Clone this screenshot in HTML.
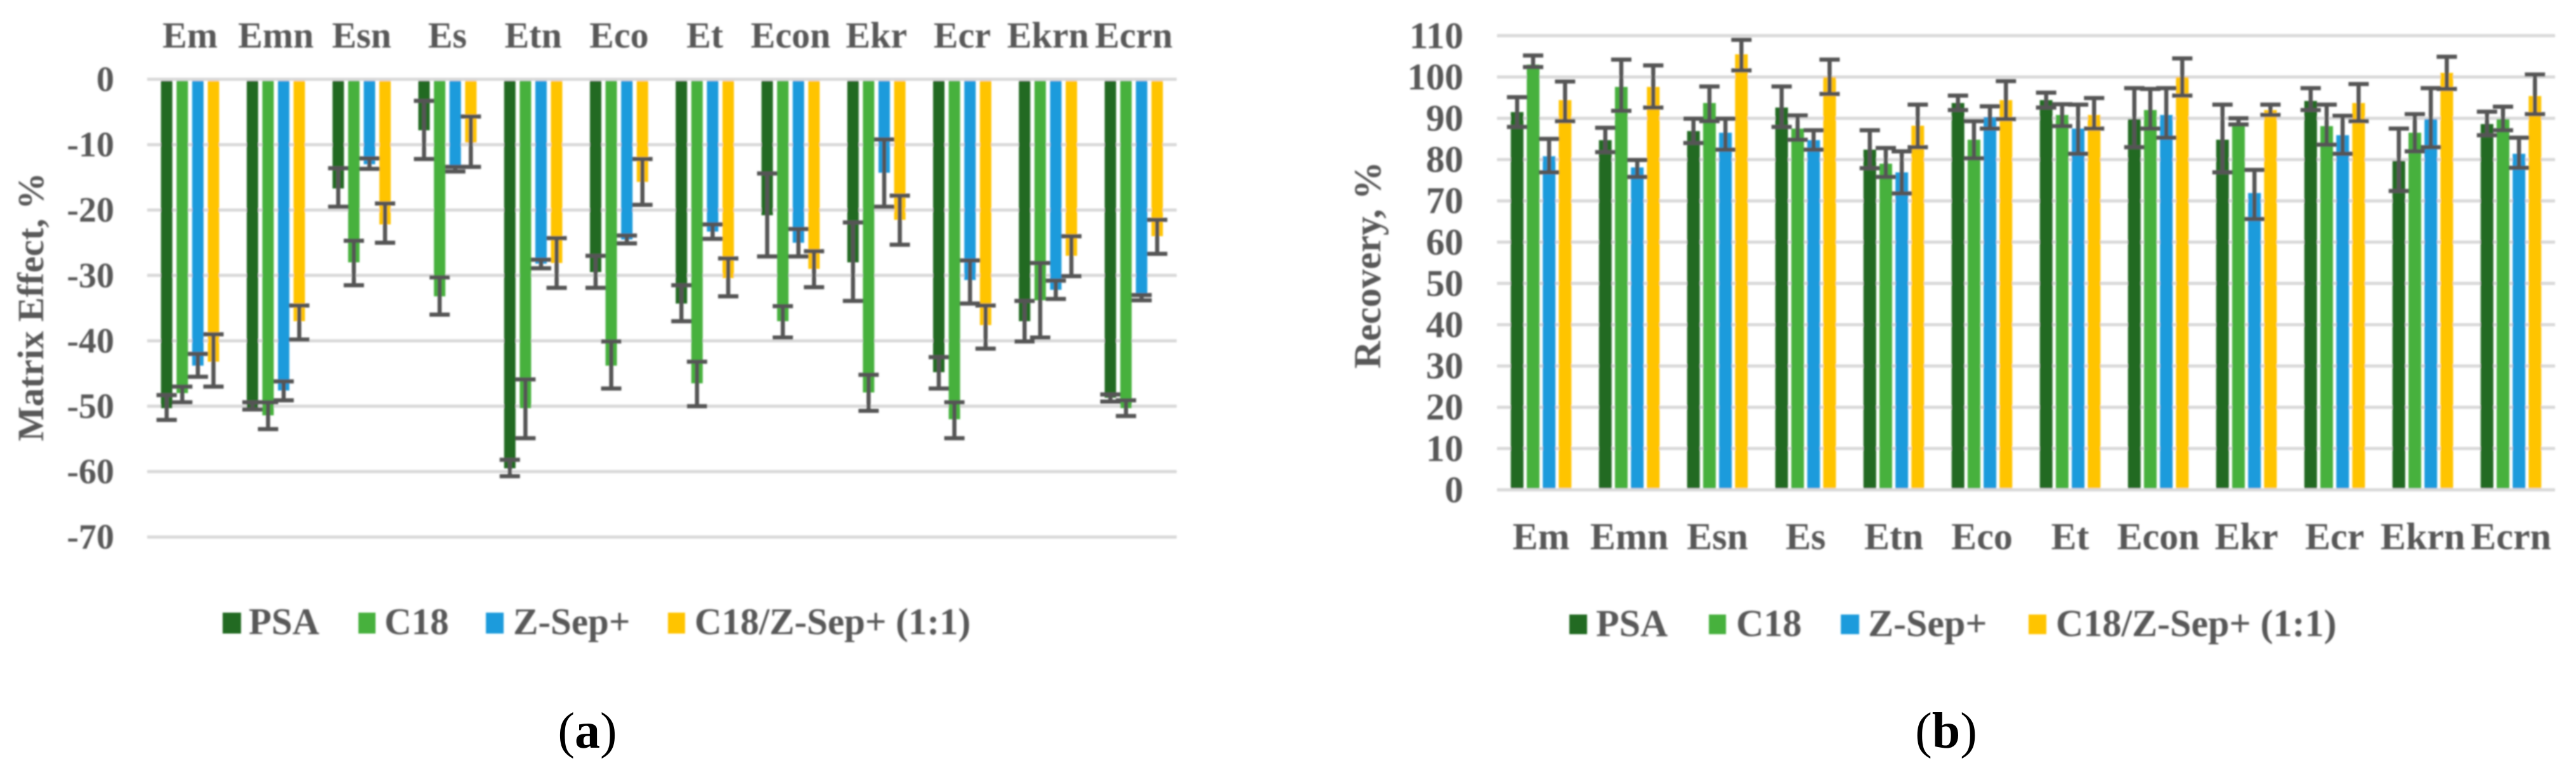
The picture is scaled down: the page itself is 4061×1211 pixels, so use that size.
<!DOCTYPE html>
<html lang="en">
<head>
<meta charset="utf-8">
<title>Matrix Effect and Recovery charts</title>
<style>
html,body{margin:0;padding:0;background:#fff;width:4061px;height:1211px;overflow:hidden}
svg{display:block}
text{font-family:"Liberation Serif",serif;font-weight:700;fill:#595959}
.caption{fill:#000;font-weight:400}
</style>
</head>
<body>
<svg id="figure" xmlns="http://www.w3.org/2000/svg" width="4061" height="1211" viewBox="0 0 4061 1211">
  <defs><filter id="soft" x="-2%" y="-2%" width="104%" height="104%"><feGaussianBlur stdDeviation="1.4"/></filter></defs>
  <rect width="4061" height="1211" fill="#fff"/>
  <g id="chartA" filter="url(#soft)">
    <text transform="translate(68,484) rotate(-90)" text-anchor="middle" font-size="58">Matrix Effect, %</text>
    <g>
      <rect x="351" y="966" width="29" height="33" fill="#226b21"/>
      <text x="392" y="1000" font-size="59">PSA</text>
      <rect x="565" y="966" width="27" height="33" fill="#46b13c"/>
      <text x="606" y="1000" font-size="59">C18</text>
      <rect x="766" y="966" width="28" height="33" fill="#1a9bdc"/>
      <text x="809" y="1000" font-size="59">Z-Sep+</text>
      <rect x="1053" y="966" width="27" height="33" fill="#ffc400"/>
      <text x="1095" y="1000" font-size="59">C18/Z-Sep+ (1:1)</text>
    </g>
  </g>
  <g id="chartB" filter="url(#soft)">
    <text transform="translate(2176,418) rotate(-90)" text-anchor="middle" font-size="60">Recovery, %</text>
    <g>
      <rect x="2474" y="969" width="28" height="31" fill="#226b21"/>
      <text x="2516" y="1003" font-size="60">PSA</text>
      <rect x="2694" y="969" width="27" height="31" fill="#46b13c"/>
      <text x="2737" y="1003" font-size="60">C18</text>
      <rect x="2902" y="969" width="29" height="31" fill="#1a9bdc"/>
      <text x="2945" y="1003" font-size="60">Z-Sep+</text>
      <rect x="3198" y="969" width="28" height="31" fill="#ffc400"/>
      <text x="3241" y="1003" font-size="60">C18/Z-Sep+ (1:1)</text>
    </g>
  </g>
  <text class="caption" x="926" y="1179" text-anchor="middle" font-size="80">(<tspan style="font-weight:700;fill:#000">a</tspan>)</text>
  <text class="caption" x="3068" y="1179" text-anchor="middle" font-size="80">(<tspan style="font-weight:700;fill:#000">b</tspan>)</text>
</svg>
<script>
var categories = ["Em","Emn","Esn","Es","Etn","Eco","Et","Econ","Ekr","Ecr","Ekrn","Ecrn"];
var seriesNames = ["psa","c18","z-sep","c18-z-sep"];
var seriesColors = ["#226b21","#46b13c","#1a9bdc","#ffc400"];

var matrixTicks = [0,-10,-20,-30,-40,-50,-60,-70];
var matrixPSA = [-50.3,-50.3,-16.7,-7.8,-59.5,-29.5,-34.3,-20.8,-28,-44.8,-37,-48.7];
var matrixC18 = [-48,-51.4,-28,-33.2,-50.3,-43.8,-46.5,-37,-47.9,-52,-33.8,-50.3];
var matrixZSep = [-43.8,-47.6,-13,-13.6,-28.2,-24.5,-23.3,-25,-14.3,-30.7,-32.2,-33.2];
var matrixMix = [-43.2,-37,-22.2,-9.7,-28.1,-15.7,-30.4,-29,-21.5,-37.6,-27,-24];
var matrixPSAErrTop = [-48.3,-49.4,-13.6,-3.3,-58.2,-27,-31.5,-14.4,-21.9,-42.5,-33.9,-48.2];
var matrixPSAErrEnd = [-52.1,-50.5,-19.5,-12.2,-60.7,-31.9,-37,-27.1,-33.9,-47.3,-40.1,-49.3];
var matrixC18ErrTop = [-47,-49.4,-24.7,-30.3,-45.9,-40.1,-43.2,-34.7,-45.2,-49.4,-28.1,-49.1];
var matrixC18ErrEnd = [-49.4,-53.5,-31.5,-36,-54.9,-47.3,-50,-39.5,-50.7,-54.9,-39.5,-51.5];
var matrixZSepErrTop = [-42,-46.2,-12.1,-13.4,-27.6,-23.9,-22.2,-22.9,-9.2,-27.7,-30.8,-33];
var matrixZSepErrEnd = [-45.5,-49.1,-13.7,-14.1,-28.9,-25.1,-24.4,-27.1,-19.5,-34.3,-33.6,-33.8];
var matrixMixErrTop = [-39,-34.6,-19,-5.7,-24.3,-12.2,-27.4,-26.3,-17.8,-34.6,-24,-21.5];
var matrixMixErrEnd = [-47,-39.8,-25,-13.4,-31.9,-19.2,-33.2,-31.8,-25.3,-41.2,-30.1,-26.7];

var recoveryTicks = [0,10,20,30,40,50,60,70,80,90,100,110];
var recoveryPSA = [91.5,84.7,86.9,92.6,82.4,93.7,94.4,89.8,84.8,94.2,79.7,88.6];
var recoveryC18 = [103,97.6,93.7,87.5,79,84.8,90.8,92,89,88.1,86.5,89.8];
var recoveryZSep = [80.8,78.1,86.5,84.7,76.9,90.3,87.5,90.8,71.9,85.9,89.8,81.4];
var recoveryMix = [94.4,97.6,105.5,100,88.2,94.4,90.8,100,92,93.7,101,95.4];
var recoveryPSAErrTop = [95.1,87.7,89.9,97.7,87.1,95.5,96.2,97.3,93.3,97.3,87.5,91.6];
var recoveryPSAErrEnd = [87.9,81.8,84,87.9,77.9,92,92.6,83,76.9,92,72.4,85.9];
var recoveryC18ErrTop = [105.2,104.2,97.7,90.7,82.8,89.3,93.4,97.1,90,93.3,91,92.8];
var recoveryC18ErrEnd = [102.4,91.8,89.3,84.8,75.8,80.3,88.1,87.5,88.5,83.6,82,87.1];
var recoveryZSepErrTop = [85,79.9,89.9,87.1,82,92.9,93.3,97.3,77.5,90.6,97.3,85.3];
var recoveryZSepErrEnd = [76.9,75.8,82.4,82.4,71.8,87.5,81.4,85.3,65.6,81.4,83,78];
var recoveryMixErrTop = [98.9,102.8,109,104.2,93.3,99,94.9,104.5,93.3,98.3,104.9,100.6];
var recoveryMixErrEnd = [89.3,92.6,101.6,95.9,83,89.8,87.5,95.5,90.8,89.3,97.1,91];

var SVG_NS = "http://www.w3.org/2000/svg";

function addShape(parent, tag, attrs, text) {
  var el = document.createElementNS(SVG_NS, tag);
  for (var k in attrs) { el.setAttribute(k, attrs[k]); }
  if (text !== undefined) { el.textContent = text; }
  parent.appendChild(el);
  return el;
}

function drawChart(cfg) {
  var root = document.getElementById(cfg.rootId);
  var yScale = function (v) { return cfg.yZero + (v - cfg.vZero) * cfg.pxPerUnit; };
  var groupW = (cfg.right - cfg.left) / categories.length;
  var xCenter = function (i) { return cfg.left + groupW * (i + 0.5); };

  cfg.ticks.forEach(function (t) {
    var line = addShape(root, "line", {x1: cfg.left, x2: cfg.right, y1: yScale(t), y2: yScale(t), stroke: "#d9d9d9", "stroke-width": 5});
    
    
    var lab = addShape(root, "text", {x: cfg.tickX, y: yScale(t) + cfg.tickFont * 0.33, "text-anchor": "end", "font-size": cfg.tickFont}, String(t));
    
    
  });

  cfg.values.forEach(function (vals, s) {
    vals.forEach(function (v, i) {
      var cx = xCenter(i) + (s - 1.5) * cfg.pitch;
      var y1 = yScale(v), y2 = yScale(cfg.base);
      var bar = addShape(root, "rect", {x: cx - cfg.barW / 2, y: Math.min(y1, y2), width: cfg.barW, height: Math.abs(y2 - y1), fill: seriesColors[s]});
      
      
    });
  });

  var axis = addShape(root, "line", {x1: cfg.left, x2: cfg.right, y1: yScale(cfg.base), y2: yScale(cfg.base), stroke: "#d9d9d9", "stroke-width": 5});
  
  

  cfg.values.forEach(function (vals, s) {
    vals.forEach(function (v, i) {
      var cx = xCenter(i) + (s - 1.5) * cfg.pitch;
      var yA = yScale(cfg.errTop[s][i]), yB = yScale(cfg.errEnd[s][i]);
      var path = "M" + cx + " " + yA + "V" + yB +
        "M" + (cx - cfg.cap) + " " + yA + "H" + (cx + cfg.cap) +
        "M" + (cx - cfg.cap) + " " + yB + "H" + (cx + cfg.cap);
      var err = addShape(root, "path", {d: path, fill: "none", stroke: "#555555", "stroke-width": 6.5});
      
      
    });
  });

  categories.forEach(function (c, i) {
    var lab = addShape(root, "text", {x: xCenter(i), y: cfg.catY, "text-anchor": "middle", "font-size": cfg.catFont}, c);
    
    
  });
}

drawChart({
  rootId: "chartA", left: 232, right: 1855, yZero: 125, vZero: 0, pxPerUnit: -10.31, base: 0,
  ticks: matrixTicks, tickX: 180, tickFont: 56, catY: 75, catFont: 58,
  pitch: 24.6, barW: 18, cap: 16,
  values: [matrixPSA, matrixC18, matrixZSep, matrixMix],
  errTop: [matrixPSAErrTop, matrixC18ErrTop, matrixZSepErrTop, matrixMixErrTop],
  errEnd: [matrixPSAErrEnd, matrixC18ErrEnd, matrixZSepErrEnd, matrixMixErrEnd]
});

drawChart({
  rootId: "chartB", left: 2360, right: 4028, yZero: 772.4, vZero: 0, pxPerUnit: -6.51, base: 0,
  ticks: recoveryTicks, tickX: 2307, tickFont: 59, catY: 866, catFont: 60,
  pitch: 25.2, barW: 20, cap: 16,
  values: [recoveryPSA, recoveryC18, recoveryZSep, recoveryMix],
  errTop: [recoveryPSAErrTop, recoveryC18ErrTop, recoveryZSepErrTop, recoveryMixErrTop],
  errEnd: [recoveryPSAErrEnd, recoveryC18ErrEnd, recoveryZSepErrEnd, recoveryMixErrEnd]
});
</script>
</body>
</html>
